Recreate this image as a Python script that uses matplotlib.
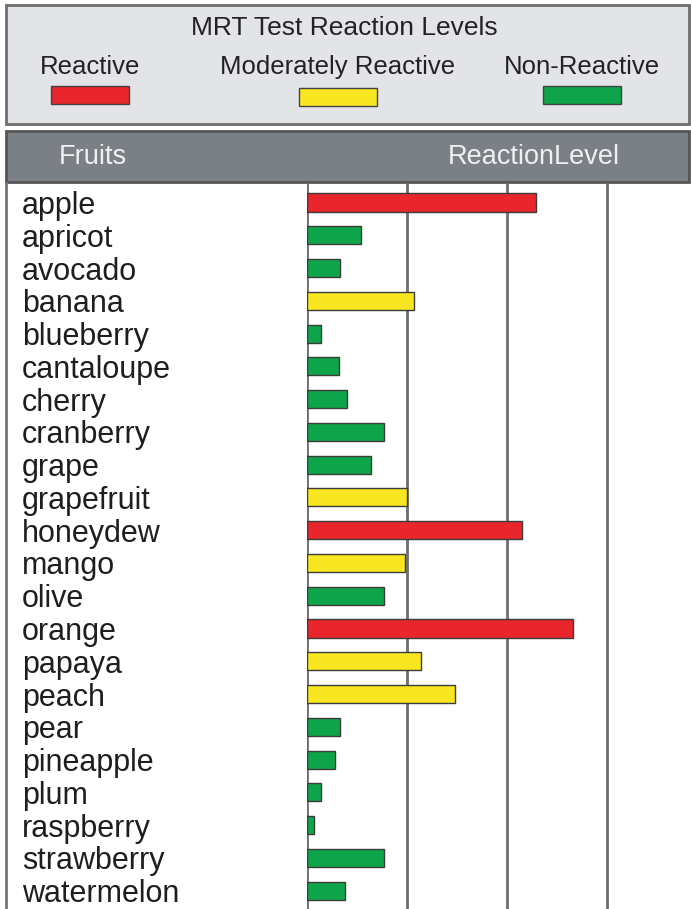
import matplotlib
matplotlib.use("Agg")
import matplotlib.pyplot as plt
from matplotlib.patches import Rectangle

plt.rcParams['font.family'] = ['Liberation Sans', 'DejaVu Sans']

fruits = ["apple", "apricot", "avocado", "banana", "blueberry", "cantaloupe",
          "cherry", "cranberry", "grape", "grapefruit", "honeydew", "mango",
          "olive", "orange", "papaya", "peach", "pear", "pineapple", "plum",
          "raspberry", "strawberry", "watermelon"]
values = [2.29, 0.54, 0.33, 1.07, 0.14, 0.32, 0.40, 0.77, 0.64, 1.00, 2.15,
          0.98, 0.77, 2.66, 1.14, 1.48, 0.33, 0.28, 0.14, 0.07, 0.77, 0.38]
levels = ["R", "N", "N", "M", "N", "N", "N", "N", "N", "M", "R", "M", "N",
          "R", "M", "M", "N", "N", "N", "N", "N", "N"]
level_names = ["Reactive", "Moderately Reactive", "Non-Reactive"]
level_keys = ["R", "M", "N"]
level_colors = {"R": "#e8262b", "M": "#f8e620", "N": "#0ea44a"}
gridlines = [0, 1, 2, 3]

W, H = 691, 909
fig = plt.figure(figsize=(W / 100, H / 100), dpi=100)
fig.patch.set_facecolor("white")

# background / decoration axes in pixel coordinates
bg = fig.add_axes([0, 0, 1, 1], zorder=0)
bg.set_xlim(0, W)
bg.set_ylim(H, 0)
bg.axis("off")

# legend box
bg.add_patch(Rectangle((6, 5), 683, 119, facecolor="#e2e4e7",
                       edgecolor="#6e6e6e", lw=2))
bg.text(344, 28, "MRT Test Reaction Levels", ha="center", va="center",
        fontsize=19, color="#222222")
label_x = [90, 338, 582]
swatch_y = [86, 88, 86]
for key, name, lx, sy in zip(level_keys, level_names, label_x, swatch_y):
    bg.text(lx, 67, name, ha="center", va="center", fontsize=18.5, color="#222222")
    bg.add_patch(Rectangle((lx - 39, sy), 78, 18, facecolor=level_colors[key],
                           edgecolor="#444444", lw=1))

# header bar
bg.add_patch(Rectangle((6, 131), 683, 51, facecolor="#7b8087",
                       edgecolor="#555555", lw=2))
bg.text(93, 157, "Fruits", ha="center", va="center", fontsize=19.5,
        color="#f0f0f0")
bg.text(534, 157, "ReactionLevel", ha="center", va="center", fontsize=19.5,
        color="#f0f0f0")

# left border of table
bg.plot([6, 6], [183, H], color="#777777", lw=2)

# main bar axes
x0, y_top = 307, 183
ax = fig.add_axes([x0 / W, 0, (W - x0) / W, (H - y_top) / H], zorder=1)
ax.patch.set_alpha(0)
n = len(fruits)
ypos = list(range(n))
ax.barh(ypos, values, height=0.55,
        color=[level_colors[l] for l in levels],
        edgecolor="#3c3c3c", linewidth=1, zorder=3)
ax.set_xlim(0, (W - x0) / 100)
ax.set_ylim((H - 202.5) / 32.77, -(202.5 - y_top) / 32.77)
for g in gridlines:
    ax.axvline(g, color="#6e6e6e", lw=2, zorder=1)
for s in ax.spines.values():
    s.set_visible(False)
ax.set_xticks([])
ax.set_yticks(ypos)
ax.set_yticklabels(fruits, fontsize=22, color="#1e1e1e")
ax.tick_params(axis="y", length=0, pad=(x0 - 22) * 0.72)
for lab in ax.get_yticklabels():
    lab.set_ha("left")

fig.savefig("out.png", dpi=100)
